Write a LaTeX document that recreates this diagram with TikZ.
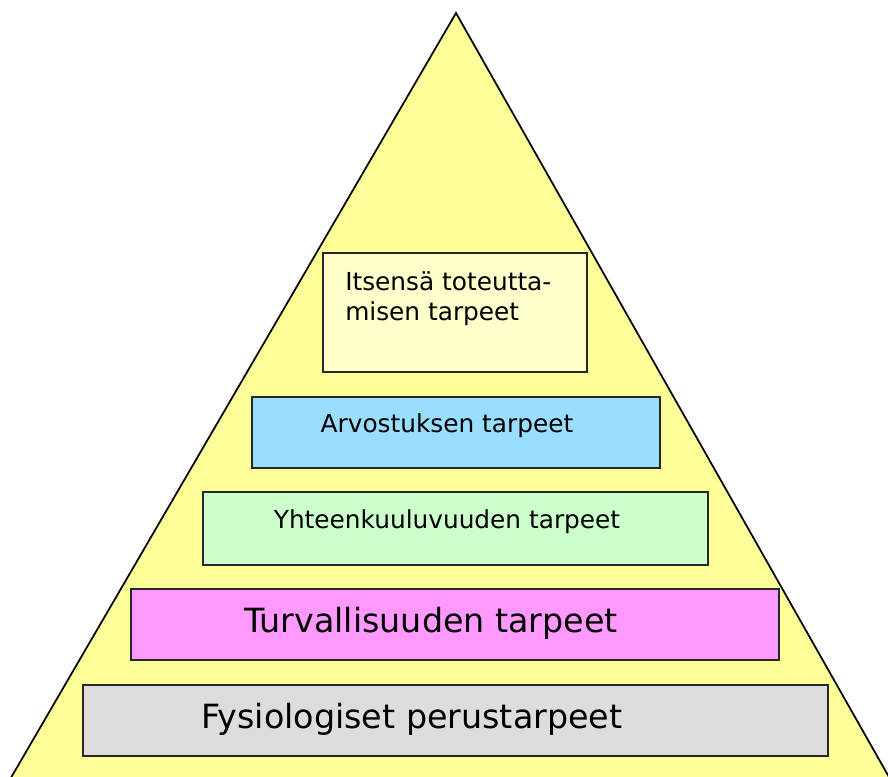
\documentclass[tikz,border=0pt]{standalone}
\usepackage{fontspec}
\setmainfont{DejaVu Sans}
\usetikzlibrary{shadows}
\definecolor{pyramid}{HTML}{FFFF99}
\definecolor{selfcol}{HTML}{FFFFCC}
\definecolor{esteemcol}{HTML}{99DDFF}
\definecolor{belongcol}{HTML}{CCFFCC}
\definecolor{safetycol}{HTML}{FF99FF}
\definecolor{physcol}{HTML}{DDDDDD}

\begin{document}
\begin{tikzpicture}[x=0.75pt, y=-0.75pt, line join=miter,
  level/.style={draw=black!85, line width=1.2pt, inner sep=0pt,
    drop shadow={shadow xshift=0.9pt, shadow yshift=-0.9pt, fill=black!45, opacity=0.8}},
  small/.style={font=\fontsize{18.6}{22.5}\selectfont, inner sep=0pt},
  large/.style={font=\fontsize{25}{30}\selectfont, inner sep=0pt}]

  \useasboundingbox (0,0) rectangle (888,776);
  \clip (0,0) rectangle (888,776);

  %========================
  % pyramid
  %========================
  \draw[fill=pyramid, line width=1.3pt] (456,13) -- (-2,800) -- (902,800) -- cycle;

  %========================
  % levels, top to bottom
  %========================
  \node[level, fill=selfcol, minimum width=264*0.75pt, minimum height=119*0.75pt]
    (self) at (455,312.5) {};
  \node[small, anchor=north west, align=left] (selftext) at (345,271)
    {Itsensä toteutta-\\misen tarpeet};

  \node[level, fill=esteemcol, minimum width=408*0.75pt, minimum height=71*0.75pt]
    (esteem) at (456,432.5) {};
  \node[small] (esteemtext) at (447,426) {Arvostuksen tarpeet};

  \node[level, fill=belongcol, minimum width=505*0.75pt, minimum height=73*0.75pt]
    (belong) at (455.5,528.5) {};
  \node[small] (belongtext) at (447,522) {Yhteenkuuluvuuden tarpeet};

  \node[level, fill=safetycol, minimum width=648*0.75pt, minimum height=71*0.75pt]
    (safety) at (455,624.5) {};
  \node[large] (safetytext) at (431,623) {Turvallisuuden tarpeet};

  \node[level, fill=physcol, minimum width=745*0.75pt, minimum height=71*0.75pt]
    (phys) at (455.5,720.5) {};
  \node[large] (physltext) at (412,719) {Fysiologiset perustarpeet};

\end{tikzpicture}
\end{document}
